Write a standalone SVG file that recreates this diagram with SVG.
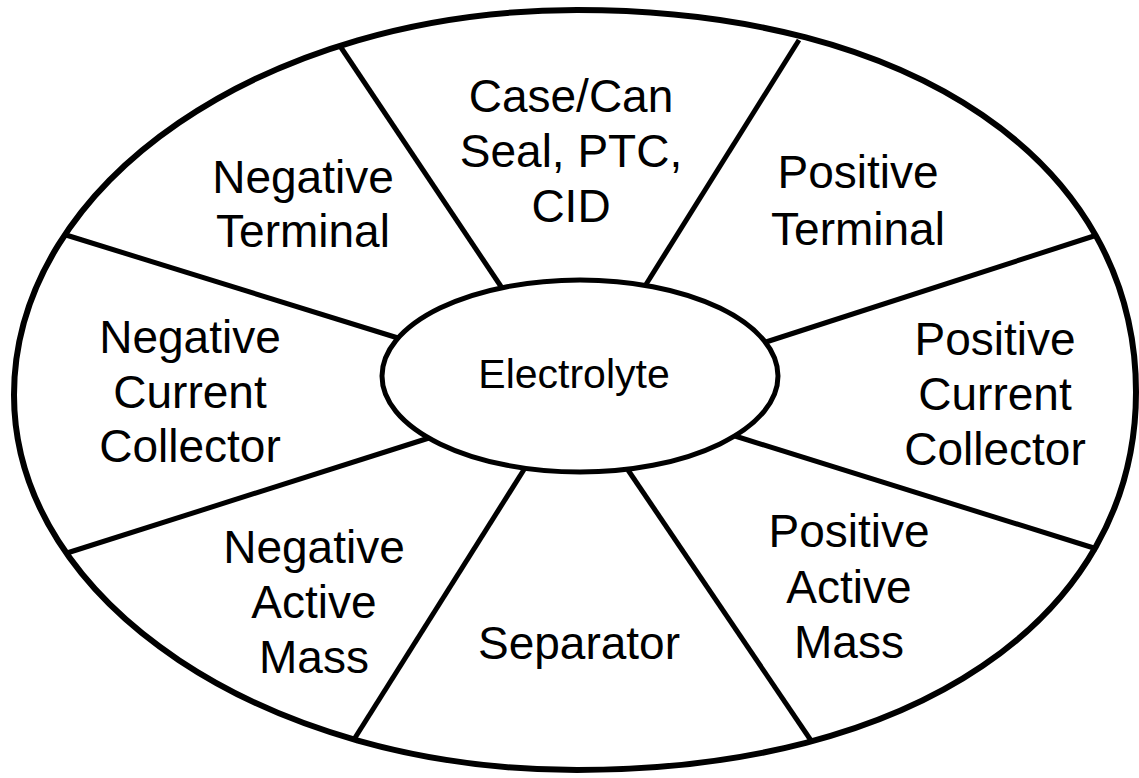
<svg xmlns="http://www.w3.org/2000/svg" width="1139" height="778" viewBox="0 0 1139 778">
<style>
.lbl{font-family:"Liberation Sans",Arial,sans-serif;font-size:46px;fill:#000;text-anchor:middle}
.ctr{font-family:"Liberation Sans",Arial,sans-serif;font-size:41px;fill:#000;text-anchor:middle}
.out{fill:none;stroke:#000;stroke-width:6}
.spk{fill:none;stroke:#000;stroke-width:5;stroke-linecap:butt}
.inn{fill:#fff;stroke:#000;stroke-width:5}
</style>
<rect width="1139" height="778" fill="#fff"/>
<g id="outer">
<path class="out" d="M14,395 C14,182.4 266,10 577,10 C912.4,10 1136,162.8 1136,392 C1136,618.8 912.4,770 577,770 C266,770 14,602.1 14,395 Z"/>
</g>
<g id="connectors">
<line class="spk" x1="340" y1="46" x2="502" y2="288"/>
<line class="spk" x1="799" y1="40" x2="645" y2="286"/>
<line class="spk" x1="66" y1="235" x2="398" y2="338"/>
<line class="spk" x1="1097" y1="235" x2="766" y2="342"/>
<line class="spk" x1="67" y1="553" x2="429" y2="438"/>
<line class="spk" x1="1097" y1="549" x2="735" y2="436"/>
<line class="spk" x1="353" y1="741" x2="525" y2="468"/>
<line class="spk" x1="812" y1="742" x2="628" y2="470"/>
</g>
<g id="electrolyte">
<ellipse class="inn" cx="580" cy="376" rx="198" ry="96"/>
<text class="ctr" x="574" y="388">Electrolyte</text>
</g>
<g id="negative-terminal">
<text class="lbl" x="303" y="193">Negative</text>
<text class="lbl" x="303" y="247">Terminal</text>
</g>
<g id="case-can">
<text class="lbl" x="571" y="112">Case/Can</text>
<text class="lbl" x="571" y="167">Seal, PTC,</text>
<text class="lbl" x="571" y="222">CID</text>
</g>
<g id="positive-terminal">
<text class="lbl" x="858" y="188">Positive</text>
<text class="lbl" x="858" y="245">Terminal</text>
</g>
<g id="negative-current-collector">
<text class="lbl" x="190" y="353">Negative</text>
<text class="lbl" x="190" y="408">Current</text>
<text class="lbl" x="190" y="462">Collector</text>
</g>
<g id="positive-current-collector">
<text class="lbl" x="995" y="355">Positive</text>
<text class="lbl" x="995" y="410">Current</text>
<text class="lbl" x="995" y="465">Collector</text>
</g>
<g id="negative-active-mass">
<text class="lbl" x="314" y="563">Negative</text>
<text class="lbl" x="314" y="618">Active</text>
<text class="lbl" x="314" y="673">Mass</text>
</g>
<g id="separator">
<text class="lbl" x="579" y="659">Separator</text>
</g>
<g id="positive-active-mass">
<text class="lbl" x="849" y="547">Positive</text>
<text class="lbl" x="849" y="603">Active</text>
<text class="lbl" x="849" y="658">Mass</text>
</g>
</svg>
